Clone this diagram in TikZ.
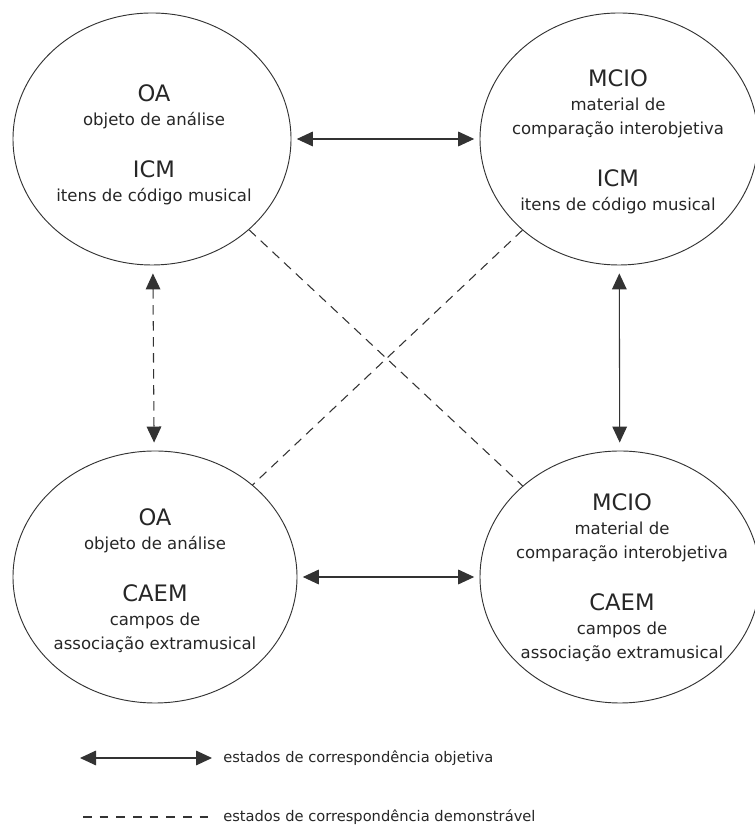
\documentclass[tikz,border=0pt]{standalone}
\usepackage{fontspec}
\setmainfont{DejaVu Sans}
\usepackage{tikz}
\usetikzlibrary{shapes.geometric, arrows.meta}
\newcommand{\sigla}[1]{{\fontsize{17}{18}\selectfont #1}}

\begin{document}
\begin{tikzpicture}[x=0.75pt, y=0.75pt, >={Triangle[length=12pt, width=11pt]},
  bubble/.style={ellipse, draw=black!80, line width=0.7pt, inner sep=0pt, minimum height=189pt},
  txt/.style={align=center, inner sep=0pt, text=black!85, font=\fontsize{12.4}{18}\selectfont},
  legenda/.style={inner sep=0pt, anchor=base west, text=black!85, font=\fontsize{11}{13}\selectfont},
  objetiva/.style={<->, draw=black!80, line width=0.8pt, shorten >=4pt, shorten <=4pt},
  demonstravel/.style={draw=black!80, line width=0.8pt, dash pattern=on 7pt off 5pt}]

\useasboundingbox (0,0) rectangle (754,827);

\def\gap{21pt}

% the four fields
\node[bubble, minimum width=208.5pt] (oaicm) at (152,688) {};
\node[bubble, minimum width=208.5pt] (mcioicm) at (619,688) {};
\node[bubble, minimum width=213pt] (oacaem) at (155,250) {};
\node[bubble, minimum width=210pt] (mciocaem) at (620,250) {};

\node[txt] (oaicmtxt) at (154,682) {\sigla{OA}\\ objeto de análise\\[\gap] \sigla{ICM}\\ itens de código musical};
\node[txt] (mcioicmtxt) at (618,685) {\sigla{MCIO}\\ material de\\ comparação interobjetiva\\[\gap] \sigla{ICM}\\ itens de código musical};
\node[txt] (oacaemtxt) at (155,246) {\sigla{OA}\\ objeto de análise\\[\gap] \sigla{CAEM}\\ campos de\\ associação extramusical};
\node[txt] (mciocaemtxt) at (622,249) {\sigla{MCIO}\\ material de\\ comparação interobjetiva\\[\gap] \sigla{CAEM}\\ campos de\\ associação extramusical};

% correspondences
\draw[objetiva] (oaicm) -- (mcioicm);
\draw[objetiva] (oacaem) -- (mciocaem);
\draw[objetiva, shorten >=6pt, shorten <=6pt] (mcioicm) -- (mciocaem);
\draw[objetiva, demonstravel, shorten >=6pt, shorten <=6pt] (oaicm) -- (oacaem);

\draw[demonstravel] (oaicm) -- (mciocaem);
\draw[demonstravel] (mcioicm) -- (oacaem);

% legend
\coordinate (objA) at (80,69);
\coordinate (objB) at (212,69);
\draw[<->, draw=black!80, line width=0.8pt] (objA) -- (objB);
\node[legenda] (objtxt) at (223,64) {estados de correspondência objetiva};

\coordinate (demA) at (83,10);
\coordinate (demB) at (213,10);
\draw[demonstravel, dash pattern=on 6.5pt off 6pt] (demA) -- (demB);
\node[legenda] (demtxt) at (223,5) {estados de correspondência demonstrável};

\end{tikzpicture}
\end{document}
